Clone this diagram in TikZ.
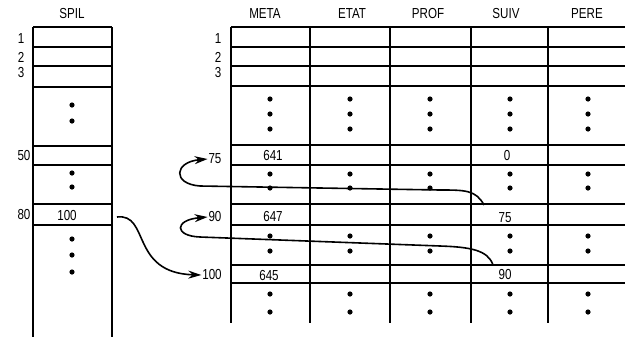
\documentclass[tikz,border=0pt]{standalone}
\usepackage{fontspec}
\setmainfont{Liberation Sans}[FakeStretch=0.8]
\usetikzlibrary{arrows.meta}

\begin{document}
\begin{tikzpicture}[x=1pt,y=-1pt,
    every node/.style={font=\fontsize{14.5}{14.5}\selectfont, inner sep=0pt, outer sep=1pt},
    rule/.style={line width=1.1pt},
    wall/.style={line width=1.4pt},
    link/.style={line width=1.6pt, -{Stealth[length=13pt,width=8pt]}}]
    \useasboundingbox (0,0) rectangle (625,341);
    % SPIL
    \node (spil) at (72,14) {SPIL};
    \foreach \y in {27,47,66,87,146,165,204,225}
        \draw[rule] (33,\y) -- (112,\y);
    \draw[wall] (33,27) -- (33,337);
    \draw[wall] (112,27) -- (112,337);
    \foreach \y in {105,121,173,187,239,255,272}
        \fill (72,\y) circle (2.6);
    \node (s1) at (21,39) {1};
    \node (s2) at (21,57) {2};
    \node (s3) at (21,73) {3};
    \node (s50) at (24,156) {50};
    \node (s80) at (24,215) {80};
    \node (v80) at (67,216) {100};
    % table
    \node (meta) at (265,14) {META};
    \node (etat) at (352,14) {ETAT};
    \node (prof) at (428,14) {PROF};
    \node (suiv) at (506,14) {SUIV};
    \node (pere) at (587,14) {PERE};
    \foreach \y in {27,47,66,86,145,165,204,225,265,283}
        \draw[rule] (231,\y) -- (625,\y);
    \foreach \x in {231,310,390,471,548}
        \draw[wall] (\x,27) -- (\x,323);
    \foreach \x in {270,350,430,510,588}
        \foreach \y in {99,114,129,174,188,236,251,294,312}
            \fill (\x,\y) circle (2.6);
    \node (r1) at (218,39) {1};
    \node (r2) at (218,57) {2};
    \node (r3) at (218,73) {3};
    \node (r75) at (215,159) {75};
    \node (r90) at (215,217) {90};
    \node (r100) at (212,275) {100};
    \node (m75) at (273,156) {641};
    \node (m90) at (273,217) {647};
    \node (m100) at (269,276) {645};
    \node (n75) at (507,156) {0};
    \node (n90) at (505,218) {75};
    \node (n100) at (505,275) {90};
    % links
    \coordinate (from80) at (117,217);
    \coordinate (p75) at (484,205);
    \coordinate (p90) at (493,265);
    \draw[link] (from80) .. controls (150,213) and (130,273) .. (r100.west);
    \draw[link] (p75) .. controls (476,190) and (465,190) .. (440,190) -- (200,186)
        .. controls (172,184) and (174,162) .. (r75.west);
    \draw[link] (p90) .. controls (488,250) and (470,247) .. (440,246) -- (200,237)
        .. controls (174,236) and (174,220) .. (r90.west);
\end{tikzpicture}
\end{document}
